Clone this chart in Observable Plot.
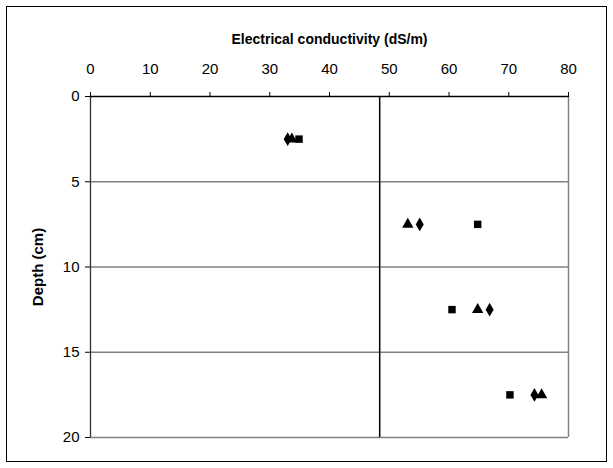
<!DOCTYPE html>
<html>
<head>
<meta charset="utf-8">
<script src="https://cdn.jsdelivr.net/npm/d3@7"></script>
<script src="https://cdn.jsdelivr.net/npm/@observablehq/plot@0.6"></script>
<style>
  html, body { margin: 0; padding: 0; background: #fff; }
  svg [aria-label="x-axis label"] { font-weight: bold; font-size: 14px; }
  svg [aria-label="y-axis label"] { font-weight: bold; }
</style>
</head>
<body>
<div id="chart"></div>
<script>
// Data
const depths = [2.5, 7.5, 12.5, 17.5];
const seriesDiamond = [33.0, 55.1, 66.8, 74.3];
const seriesSquare = [34.9, 64.8, 60.5, 70.2];
const seriesTriangle = [33.7, 53.1, 64.8, 75.5];
const xTicks = [0, 10, 20, 30, 40, 50, 60, 70, 80];
const yTicks = [0, 5, 10, 15, 20];
const gridY = [5, 10, 15];
const dividerX = [48.4];

const rows = [];
depths.forEach((d, i) => {
  rows.push({depth: d, ec: seriesDiamond[i], s: "diamond"});
  rows.push({depth: d, ec: seriesSquare[i], s: "square"});
  rows.push({depth: d, ec: seriesTriangle[i], s: "triangle"});
});

// square rotated 45 degrees (equal width and height)
const rhombus = {
  draw(context, size) {
    const h = Math.sqrt(size / 2);
    context.moveTo(0, -h);
    context.lineTo(h, 0);
    context.lineTo(0, h);
    context.lineTo(-h, 0);
    context.closePath();
  }
};

const W = 613, H = 468;
const chart = Plot.plot({
  width: W,
  height: H,
  marginLeft: 90,
  marginRight: 45,
  marginTop: 96,
  marginBottom: 31,
  style: {fontFamily: "'Liberation Sans', Arial, sans-serif", fontSize: "15px", color: "#000", background: "#fff"},
  x: {domain: [0, 80]},
  y: {domain: [0, 20], reverse: true},
  symbol: {domain: ["diamond", "square", "triangle"], range: [rhombus, d3.symbolSquare, d3.symbolTriangle]},
  marks: [
    Plot.ruleY(gridY, {stroke: "#808080", strokeWidth: 1.3}),
    Plot.ruleY([20], {stroke: "#808080", strokeWidth: 1.5}),
    Plot.ruleX([80], {stroke: "#808080", strokeWidth: 1.5}),
    Plot.ruleX([0], {stroke: "#333", strokeWidth: 1.3}),
    Plot.ruleY([0], {stroke: "#000", strokeWidth: 1.3}),
    Plot.ruleX(dividerX, {stroke: "#000", strokeWidth: 1.5}),
    Plot.axisX({anchor: "top", ticks: xTicks, tickSize: 5, tickPadding: 18,
      label: "Electrical conductivity (dS/m)", labelAnchor: "center", labelArrow: false, labelOffset: 62}),
    Plot.axisY({anchor: "left", ticks: yTicks, tickSize: 5, tickPadding: 6,
      label: "Depth (cm)", labelAnchor: "center", labelArrow: false, labelOffset: 58}),
    Plot.dot(rows, {x: "ec", y: "depth", symbol: "s", fill: "#000", stroke: "none", r: 4.2})
  ]
});
d3.select(chart).append("rect")
  .attr("x", 6.5).attr("y", 6.5).attr("width", W - 13).attr("height", H - 13)
  .attr("fill", "none").attr("stroke", "#000").attr("stroke-width", 1);
document.getElementById("chart").appendChild(chart);
</script>
</body>
</html>
